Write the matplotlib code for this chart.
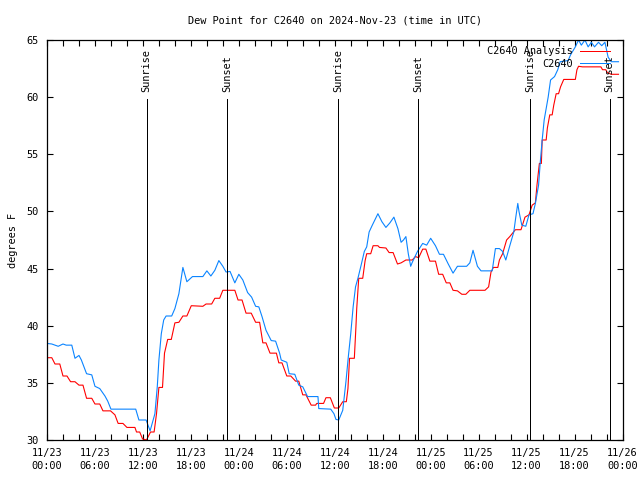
import matplotlib
matplotlib.use("Agg")
import matplotlib.pyplot as plt
from matplotlib.ticker import MultipleLocator

# hours since 2024-11-23 00:00 UTC
analysis_hours = [
    0.0, 0.6, 1.0, 1.6, 2.0, 2.5, 2.95, 3.5, 4.0, 4.5, 4.95, 5.6, 6.0, 6.6,
    7.0, 7.95, 8.5, 8.9, 9.5, 10.0, 11.0, 11.2, 11.6, 11.95, 12.45, 12.95,
    13.4, 13.7, 14.0, 14.45, 14.7, 15.1, 15.55, 16.0, 16.5, 17.0, 17.5, 18.05,
    19.5, 19.9, 20.6, 21.0, 21.6, 22.0, 23.5, 23.9, 24.4, 24.9, 25.55, 26.1,
    26.6, 27.0, 27.4, 27.9, 28.7, 29.0, 29.4, 30.0, 30.5, 31.1, 31.5, 32.0,
    32.4, 33.05, 33.6, 33.75, 34.6, 34.9, 35.45, 35.95, 36.5, 37.0, 37.45,
    37.65, 37.85, 38.45, 38.65, 38.75, 39.0, 39.5, 39.8, 40.0, 40.5, 40.8,
    41.4, 41.6, 42.4, 42.8, 43.3, 43.85, 44.3, 44.9, 45.7, 46.1, 46.5, 47.0,
    47.4, 47.9, 48.6, 49.0, 49.5, 49.95, 50.4, 50.8, 51.35, 51.9, 52.4, 52.9,
    54.8, 55.25, 55.55, 55.85, 56.4, 56.6, 57.0, 57.5, 57.9, 58.6, 59.3, 59.8,
    60.3, 60.7, 61.1, 61.3, 61.6, 61.85, 61.95, 62.45, 62.6, 62.9, 63.2, 63.4,
    63.7, 64.0, 64.25, 64.65, 66.1, 66.3, 66.5, 67.0, 69.3, 69.5, 69.9, 70.1,
    70.6, 71.5,
]
analysis_temp = [
    37.2, 37.2, 36.65, 36.65, 35.6, 35.6, 35.1, 35.1, 34.8, 34.8, 33.65, 33.65,
    33.15, 33.15, 32.55, 32.55, 32.2, 31.45, 31.45, 31.1, 31.1, 30.7, 30.7,
    30.1, 30.0, 30.7, 30.7, 32.3, 34.6, 34.6, 37.6, 38.8, 38.8, 40.25, 40.3,
    40.85, 40.85, 41.75, 41.7, 41.9, 41.9, 42.4, 42.4, 43.1, 43.1, 42.25, 42.25,
    41.1, 41.1, 40.3, 40.3, 38.5, 38.5, 37.6, 37.6, 36.75, 36.75, 35.6, 35.6,
    35.15, 35.15, 33.95, 33.95, 33.05, 33.05, 33.2, 33.2, 33.7, 33.7, 32.8,
    32.8, 33.35, 33.35, 34.5, 37.15, 37.15, 39.9, 41.5, 44.15, 44.15, 45.7,
    46.3, 46.3, 47.0, 47.0, 46.85, 46.8, 46.4, 46.4, 45.4, 45.5, 45.75, 45.75,
    46.05, 45.95, 46.7, 46.7, 45.65, 45.65, 44.5, 44.5, 43.75, 43.75, 43.1,
    43.05, 42.75, 42.75, 43.1, 43.1, 43.4, 44.7, 45.1, 45.1, 45.75, 46.3, 47.5,
    47.8, 48.4, 48.4, 49.5, 49.7, 50.55, 50.75, 52.3, 54.2, 54.2, 56.25, 56.25,
    57.3, 58.45, 58.45, 59.3, 60.3, 60.3, 60.9, 61.55, 61.55, 62.4, 62.7, 62.65,
    62.65, 62.4, 62.4, 62.15, 62.0, 62.0,
]

obs_hours = [
    0.0, 0.6, 1.4, 2.0, 2.4, 3.1, 3.5, 4.0, 4.3, 4.95, 5.6, 6.0, 6.6, 7.25,
    7.6, 8.0, 11.1, 11.5, 12.4, 12.9, 13.5, 13.8, 14.0, 14.3, 14.6, 14.9, 15.6,
    16.0, 16.5, 17.0, 17.5, 18.2, 19.5, 20.0, 20.5, 21.0, 21.5, 22.0, 22.4,
    22.9, 23.5, 24.0, 24.5, 25.1, 25.6, 26.1, 26.5, 26.9, 27.4, 28.05, 28.6,
    29.1, 29.3, 30.0, 30.3, 31.0, 31.5, 32.0, 32.6, 33.9, 34.0, 35.5, 35.9,
    36.15, 36.5, 37.0, 37.4, 37.7, 38.0, 38.3, 38.6, 38.9, 39.3, 39.7, 40.0,
    40.3, 40.7, 41.4, 41.9, 42.4, 42.9, 43.4, 43.9, 44.3, 44.6, 44.9, 45.2,
    45.5, 45.7, 46.35, 47.0, 47.5, 48.0, 48.6, 49.1, 49.6, 50.2, 50.8, 51.35,
    52.5, 52.9, 53.3, 53.85, 54.3, 55.7, 56.1, 56.6, 57.0, 57.4, 57.9, 58.4,
    58.65, 58.9, 59.05, 59.4, 59.9, 60.3, 60.8, 61.1, 61.5, 61.7, 61.95, 62.2,
    62.5, 62.7, 63.0, 63.5, 63.9, 64.2, 65.2, 65.5, 66.1, 66.5, 66.85, 67.3,
    67.7, 68.1, 68.5, 69.0, 69.4, 69.8, 70.2, 70.6, 71.5,
]
obs_temp = [
    38.45, 38.4, 38.2, 38.4, 38.3, 38.3, 37.15, 37.4, 37.0, 35.8, 35.7, 34.7,
    34.5, 33.85, 33.4, 32.7, 32.7, 31.75, 31.75, 30.8, 32.3, 34.7, 37.0, 39.3,
    40.5, 40.85, 40.85, 41.5, 42.8, 45.1, 43.85, 44.3, 44.3, 44.8, 44.35, 44.85,
    45.7, 45.2, 44.7, 44.75, 43.75, 44.5, 44.0, 42.9, 42.5, 41.7, 41.65, 40.8,
    39.6, 38.7, 38.65, 37.6, 37.0, 36.8, 35.8, 35.75, 34.8, 34.65, 33.8, 33.8,
    32.75, 32.7, 32.3, 31.8, 31.75, 32.6, 35.1, 37.3, 39.3, 41.65, 43.4, 44.15,
    45.3, 46.5, 46.9, 48.2, 48.8, 49.8, 49.1, 48.6, 49.0, 49.5, 48.5, 47.3,
    47.5, 47.8, 46.3, 45.2, 45.55, 46.5, 47.2, 47.05, 47.65, 47.0, 46.25, 46.25,
    45.4, 44.6, 45.2, 45.2, 45.5, 46.6, 45.2, 44.8, 44.8, 46.75, 46.75, 46.5,
    45.75, 47.0, 48.2, 49.5, 50.7, 50.0, 48.8, 48.7, 49.7, 49.8, 50.7, 52.3,
    54.2, 56.25, 58.0, 59.2, 60.0, 61.5, 61.8, 62.4, 63.1, 63.2, 63.7, 64.4,
    65.0, 64.55, 65.0, 64.4, 64.8, 64.4, 64.8, 64.5, 64.8, 63.5, 63.1, 63.1,
]

sunrise_hours = [12.46, 36.4, 60.4]
sunset_hours = [22.5, 46.4, 70.4]

tick_hours = list(range(0, 73, 6))
tick_labels = [
    "11/23\n00:00", "11/23\n06:00", "11/23\n12:00", "11/23\n18:00",
    "11/24\n00:00", "11/24\n06:00", "11/24\n12:00", "11/24\n18:00",
    "11/25\n00:00", "11/25\n06:00", "11/25\n12:00", "11/25\n18:00",
    "11/26\n00:00",
]

plt.rcParams["font.family"] = ["DejaVu Sans Mono"]
fs = 7.4
px = 0.72  # one pixel at 100 dpi

fig = plt.figure(figsize=(6.4, 4.8), dpi=100)
ax = fig.add_axes([47 / 640, 40 / 480, 575.5 / 640, 400 / 480])

ax.plot(analysis_hours, analysis_temp, color="#ff0000", lw=0.8,
        label="C2640 Analysis")
ax.plot(obs_hours, obs_temp, color="#0a84ff", lw=0.8, label="C2640")

# sunrise / sunset markers
line_top = 59.8
for hrs, name in [(sunrise_hours, "Sunrise"), (sunset_hours, "Sunset")]:
    for h in hrs:
        ax.plot([h, h], [30, line_top], color="black", lw=px,
                antialiased=False)
        ax.text(h, 60.45, name, rotation=90, ha="center", va="bottom",
                fontsize=fs)

ax.set_xlim(0, 72)
ax.set_ylim(30, 65)
ax.set_xticks(tick_hours)
ax.set_xticklabels(tick_labels)
for lab in ax.get_xticklabels():
    lab.set_linespacing(1.35)
ax.xaxis.set_minor_locator(MultipleLocator(2))
ax.yaxis.set_major_locator(MultipleLocator(5))
ax.tick_params(which="both", direction="in", length=4.5, width=0.8,
               top=True, right=True, labelsize=fs)
ax.tick_params(axis="x", pad=6)
ax.tick_params(axis="y", pad=6)
for s in ax.spines.values():
    s.set_linewidth(0.9)

ax.set_ylabel("degrees F", fontsize=fs, labelpad=6)
ax.set_title("Dew Point for C2640 on 2024-Nov-23 (time in UTC)",
             fontsize=fs, pad=12)

leg = ax.legend(loc="upper right", bbox_to_anchor=(0.985, 0.995),
                frameon=False, markerfirst=False, fontsize=fs,
                handlelength=2.9, handletextpad=0.7, labelspacing=0.25,
                borderaxespad=0.0)
for ln in leg.get_lines():
    ln.set_linewidth(px)
    ln.set_antialiased(False)

fig.savefig("out.png", dpi=100)
